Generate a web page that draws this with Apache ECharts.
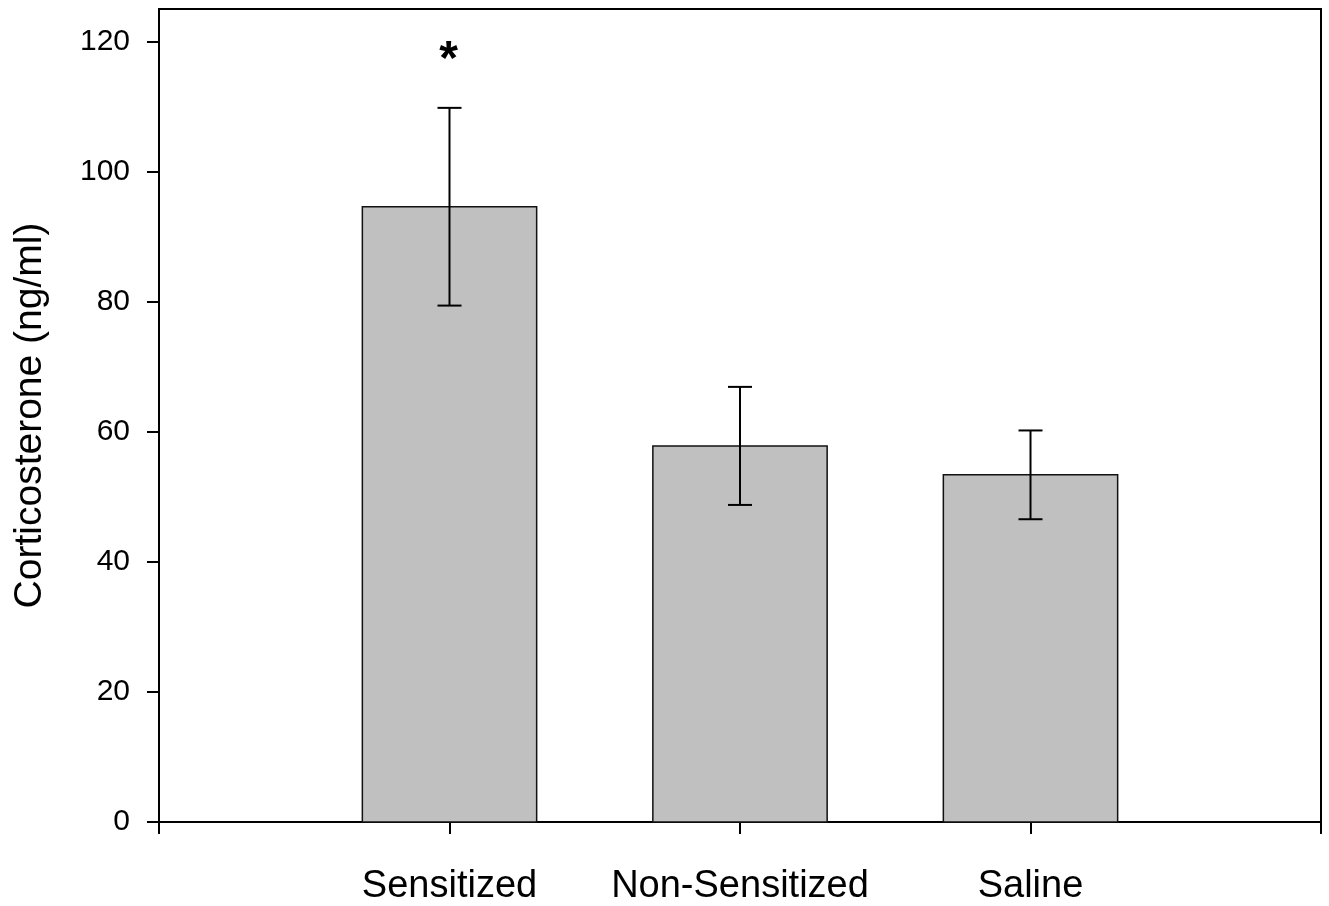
<!DOCTYPE html>
<html>
<head>
<meta charset="utf-8">
<script src="https://cdn.jsdelivr.net/npm/echarts@6/dist/echarts.min.js"></script>
<style>
html,body{margin:0;padding:0;background:#fff;}
#chart{width:1329px;height:906px;}
</style>
</head>
<body>
<div id="chart"></div>
<script>
// ---- data ----
const categories = ['Sensitized', 'Non-Sensitized', 'Saline'];
const positions = [1, 2, 3];
const means = [94.6, 57.8, 53.4];
const errLow = [79.4, 48.75, 46.55];
const errHigh = [109.8, 66.9, 60.2];
const sigMarks = ['*', '', ''];
const yTicks = [0, 20, 40, 60, 80, 100, 120];
const xTicks = [0, 1, 2, 3, 4];
const yTitle = 'Corticosterone (ng/ml)';

const FONT = "'Liberation Sans', Arial, Helvetica, sans-serif";
const BAR_HALF = 0.3;

const barData = positions.map((p, i) => [p, means[i]]);
const errData = positions.map((p, i) => [p, errLow[i], errHigh[i]]);
const sigData = positions.map((p, i) => [p, errHigh[i], sigMarks[i]]);

const chart = echarts.init(document.getElementById('chart'), null, {renderer: 'canvas'});
chart.setOption({
  animation: false,
  backgroundColor: '#ffffff',
  grid: {left: 159, right: 8, top: 9, bottom: 82.5, show: true, borderColor: '#000', borderWidth: 2, backgroundColor: 'transparent'},
  xAxis: {
    type: 'value', min: 0, max: 4, interval: 1,
    axisLine: {show: true, lineStyle: {color: '#000', width: 2}},
    axisTick: {show: true, inside: false, length: 12, lineStyle: {color: '#000', width: 2}, customValues: xTicks},
    splitLine: {show: false},
    axisLabel: {
      customValues: positions,
      formatter: v => { const i = positions.indexOf(v); return i >= 0 ? categories[i] : ''; },
      color: '#000', fontFamily: FONT, fontSize: 38, margin: 46
    }
  },
  yAxis: {
    type: 'value', min: 0, max: 125, interval: 20,
    name: yTitle, nameLocation: 'middle', nameGap: 109,
    nameTextStyle: {color: '#000', fontFamily: FONT, fontSize: 39},
    axisLine: {show: true, lineStyle: {color: '#000', width: 2}},
    axisTick: {show: true, inside: false, length: 12, lineStyle: {color: '#000', width: 2}, customValues: yTicks},
    splitLine: {show: false},
    axisLabel: {customValues: yTicks, color: '#000', fontFamily: FONT, fontSize: 30, margin: 29}
  },
  series: [
    {
      type: 'custom', name: 'bars', data: barData,
      renderItem: function (params, api) {
        const x = api.value(0), v = api.value(1);
        const p1 = api.coord([x - BAR_HALF, v]);
        const p2 = api.coord([x + BAR_HALF, 0]);
        return {
          type: 'rect',
          shape: {x: p1[0], y: p1[1], width: p2[0] - p1[0], height: p2[1] - p1[1]},
          style: {fill: '#c0c0c0', stroke: '#111', lineWidth: 1.5}
        };
      },
      z: 2
    },
    {
      type: 'custom', name: 'err', data: errData,
      renderItem: function (params, api) {
        const x = api.value(0);
        const lo = api.coord([x, api.value(1)]);
        const hi = api.coord([x, api.value(2)]);
        const cap = 12;
        const st = {stroke: '#000', lineWidth: 2};
        return {
          type: 'group',
          children: [
            {type: 'line', shape: {x1: lo[0], y1: lo[1], x2: hi[0], y2: hi[1]}, style: st},
            {type: 'line', shape: {x1: lo[0] - cap, y1: lo[1], x2: lo[0] + cap, y2: lo[1]}, style: st},
            {type: 'line', shape: {x1: hi[0] - cap, y1: hi[1], x2: hi[0] + cap, y2: hi[1]}, style: st}
          ]
        };
      },
      z: 3
    },
    {
      type: 'custom', name: 'sig', data: sigData,
      renderItem: function (params, api) {
        const i = params.dataIndex;
        const p = api.coord([api.value(0), api.value(1)]);
        return {
          type: 'text',
          x: p[0] - 1, y: p[1] - 47,
          style: {text: sigMarks[i], fill: '#000', font: 'bold 48px ' + FONT, textAlign: 'center', textVerticalAlign: 'middle'}
        };
      },
      z: 4
    }
  ]
});
</script>
</body>
</html>
